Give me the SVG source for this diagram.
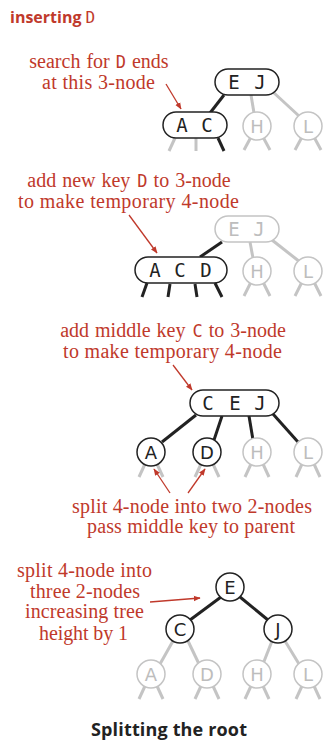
<svg xmlns="http://www.w3.org/2000/svg" width="324" height="742" viewBox="0 0 324 742">
<style>
.bg{fill:#fff}
.lbl{font-family:"Liberation Serif","Times New Roman",serif;font-size:20px;fill:#c0392b;text-anchor:middle}
.mono{font-family:"DejaVu Sans Mono","Liberation Mono",monospace}
.key{font-family:"DejaVu Sans Mono","Liberation Mono",monospace;font-size:19px;text-anchor:middle;fill:#222}
.ckey{font-family:"DejaVu Sans","Open Sans",sans-serif;font-size:18px;text-anchor:middle;fill:#222}
.g .key,.g .ckey{fill:#bdbdbd}
.node{fill:#fff;stroke:#222;stroke-width:1.5}
.g .node{stroke:#c4c4c4}
.eb{stroke:#222;stroke-width:3;fill:none}
.eg{stroke:#c4c4c4;stroke-width:3;fill:none}
.arr{stroke:#c0392b;stroke-width:1.3;fill:none;marker-end:url(#ah)}
.title{font-family:"Open Sans","DejaVu Sans",sans-serif;font-weight:700;font-size:18px;fill:#222;text-anchor:middle}
.head{font-family:"Open Sans","DejaVu Sans",sans-serif;font-weight:700;font-size:16px;fill:#c0392b}
</style>
<defs>
<marker id="ah" viewBox="0 0 10 10" refX="9" refY="5" markerWidth="7" markerHeight="7" markerUnits="userSpaceOnUse" orient="auto">
<path d="M0,1 L10,5 L0,9 z" fill="#c0392b"/>
</marker>
</defs>
<rect class="bg" x="0" y="0" width="324" height="742"/>

<text class="head" x="10" y="23">inserting <tspan class="mono" font-weight="400">D</tspan></text>

<g id="connectors">
<!-- section 1 -->
<line class="eb" x1="224" y1="95" x2="210" y2="113"/>
<line class="eg" x1="251" y1="95" x2="254" y2="113"/>
<line class="eg" x1="273" y1="92" x2="299" y2="116"/>
<line class="eg" x1="175" y1="138" x2="169" y2="151"/>
<line class="eg" x1="196" y1="138" x2="196" y2="151"/>
<line class="eb" x1="218" y1="138" x2="224" y2="151"/>
<line class="eg" x1="251" y1="137" x2="244" y2="150"/>
<line class="eg" x1="263" y1="137" x2="270" y2="150"/>
<line class="eg" x1="302" y1="137" x2="295" y2="150"/>
<line class="eg" x1="314" y1="137" x2="321" y2="150"/>
<!-- section 2 -->
<line class="eb" x1="222" y1="242" x2="200" y2="257"/>
<line class="eg" x1="250" y1="242" x2="253" y2="258"/>
<line class="eg" x1="272" y1="240" x2="300" y2="262"/>
<line class="eb" x1="147" y1="283" x2="142" y2="297"/>
<line class="eb" x1="170" y1="284" x2="168" y2="297"/>
<line class="eb" x1="195" y1="284" x2="197" y2="297"/>
<line class="eb" x1="215" y1="283" x2="222" y2="297"/>
<line class="eg" x1="251" y1="282" x2="244" y2="296"/>
<line class="eg" x1="263" y1="282" x2="270" y2="296"/>
<line class="eg" x1="302" y1="282" x2="295" y2="296"/>
<line class="eg" x1="314" y1="282" x2="321" y2="296"/>
<!-- section 3 -->
<line class="eb" x1="196" y1="415" x2="162" y2="442"/>
<line class="eb" x1="222" y1="416" x2="214" y2="440"/>
<line class="eb" x1="249" y1="416" x2="253" y2="440"/>
<line class="eb" x1="273" y1="414" x2="298" y2="442"/>
<line class="eg" x1="145" y1="464" x2="139" y2="477"/>
<line class="eg" x1="157" y1="464" x2="163" y2="477"/>
<line class="eg" x1="201" y1="464" x2="195" y2="477"/>
<line class="eg" x1="213" y1="464" x2="219" y2="477"/>
<line class="eg" x1="251" y1="464" x2="245" y2="477"/>
<line class="eg" x1="263" y1="464" x2="269" y2="477"/>
<line class="eg" x1="302" y1="464" x2="296" y2="477"/>
<line class="eg" x1="314" y1="464" x2="320" y2="477"/>
<!-- section 5 -->
<line class="eb" x1="221" y1="597" x2="190" y2="620"/>
<line class="eb" x1="240" y1="597" x2="268" y2="620"/>
<line class="eg" x1="173" y1="641" x2="160" y2="664"/>
<line class="eg" x1="188" y1="641" x2="199" y2="664"/>
<line class="eg" x1="272" y1="641" x2="263" y2="664"/>
<line class="eg" x1="285" y1="641" x2="299" y2="664"/>
<line class="eg" x1="145" y1="686" x2="139" y2="699"/>
<line class="eg" x1="157" y1="686" x2="163" y2="699"/>
<line class="eg" x1="201" y1="686" x2="195" y2="699"/>
<line class="eg" x1="213" y1="686" x2="219" y2="699"/>
<line class="eg" x1="251" y1="686" x2="245" y2="699"/>
<line class="eg" x1="263" y1="686" x2="269" y2="699"/>
<line class="eg" x1="302" y1="686" x2="296" y2="699"/>
<line class="eg" x1="314" y1="686" x2="320" y2="699"/>
<!-- annotation arrows -->
<line class="arr" x1="166" y1="84" x2="181" y2="109"/>
<line class="arr" x1="129" y1="215" x2="157" y2="253"/>
<line class="arr" x1="173" y1="365" x2="192" y2="390"/>
<line class="arr" x1="170" y1="493" x2="154" y2="469"/>
<line class="arr" x1="188" y1="493" x2="205" y2="469"/>
<line class="arr" x1="150" y1="602" x2="200" y2="598"/>
</g>

<!-- section 1 nodes -->
<g id="s1-EJ"><rect class="node" x="215" y="69" width="64" height="26" rx="13"/><text class="key" x="234" y="89">E</text><text class="key" x="260" y="89">J</text></g>
<g id="s1-AC"><rect class="node" x="163" y="112" width="64" height="26" rx="13"/><text class="key" x="182" y="132">A</text><text class="key" x="207" y="132">C</text></g>
<g id="s1-H" class="g"><circle class="node" cx="257" cy="126" r="14"/><text class="ckey" x="257" y="132.5">H</text></g>
<g id="s1-L" class="g"><circle class="node" cx="308" cy="126" r="14"/><text class="ckey" x="308" y="132.5">L</text></g>

<!-- section 2 nodes -->
<g id="s2-EJ" class="g"><rect class="node" x="215" y="216" width="64" height="26" rx="13"/><text class="key" x="234" y="236">E</text><text class="key" x="259" y="236">J</text></g>
<g id="s2-ACD"><rect class="node" x="135" y="257" width="92" height="26" rx="13"/><text class="key" x="155" y="277">A</text><text class="key" x="180" y="277">C</text><text class="key" x="206" y="277">D</text></g>
<g id="s2-H" class="g"><circle class="node" cx="257" cy="271" r="14"/><text class="ckey" x="257" y="277.5">H</text></g>
<g id="s2-L" class="g"><circle class="node" cx="308" cy="271" r="14"/><text class="ckey" x="308" y="277.5">L</text></g>

<!-- section 3 nodes -->
<g id="s3-CEJ"><rect class="node" x="190" y="390" width="89" height="26" rx="13"/><text class="key" x="208" y="410">C</text><text class="key" x="235" y="410">E</text><text class="key" x="260" y="410">J</text></g>
<g id="s3-A"><circle class="node" cx="151" cy="452" r="14"/><text class="ckey" x="151" y="458.5">A</text></g>
<g id="s3-D"><circle class="node" cx="207" cy="452" r="14"/><text class="ckey" x="207" y="458.5">D</text></g>
<g id="s3-H" class="g"><circle class="node" cx="257" cy="452" r="14"/><text class="ckey" x="257" y="458.5">H</text></g>
<g id="s3-L" class="g"><circle class="node" cx="308" cy="452" r="14"/><text class="ckey" x="308" y="458.5">L</text></g>

<!-- section 5 nodes -->
<g id="s5-E"><circle class="node" cx="230" cy="587" r="14"/><text class="ckey" x="230" y="593.5">E</text></g>
<g id="s5-C"><circle class="node" cx="180" cy="629" r="14"/><text class="ckey" x="180" y="635.5">C</text></g>
<g id="s5-J"><circle class="node" cx="278" cy="629" r="14"/><text class="ckey" x="278" y="635.5">J</text></g>
<g id="s5-A" class="g"><circle class="node" cx="151" cy="674" r="14"/><text class="ckey" x="151" y="680.5">A</text></g>
<g id="s5-D" class="g"><circle class="node" cx="207" cy="674" r="14"/><text class="ckey" x="207" y="680.5">D</text></g>
<g id="s5-H" class="g"><circle class="node" cx="257" cy="674" r="14"/><text class="ckey" x="257" y="680.5">H</text></g>
<g id="s5-L" class="g"><circle class="node" cx="308" cy="674" r="14"/><text class="ckey" x="308" y="680.5">L</text></g>

<!-- labels -->
<g id="labels">
<text class="lbl" x="99" y="68" word-spacing="1">search for <tspan class="mono" font-size="17">D</tspan> ends</text>
<text class="lbl" x="98.5" y="89" textLength="113">at this 3-node</text>
<text class="lbl" x="129" y="186.5" word-spacing="1">add new key <tspan class="mono" font-size="17" dx="1">D</tspan> to 3-node</text>
<text class="lbl" x="128.5" y="207.5" textLength="221">to make temporary 4-node</text>
<text class="lbl" x="173" y="336.5" word-spacing="1">add middle key <tspan class="mono" font-size="17" dx="1">C</tspan> to 3-node</text>
<text class="lbl" x="172.5" y="357.5" textLength="219">to make temporary 4-node</text>
<text class="lbl" x="192" y="513" textLength="240">split 4-node into two 2-nodes</text>
<text class="lbl" x="191" y="533" textLength="208">pass middle key to parent</text>
<text class="lbl" x="84.5" y="577" textLength="135">split 4-node into</text>
<text class="lbl" x="85" y="598" textLength="110">three 2-nodes</text>
<text class="lbl" x="84.5" y="618" textLength="119">increasing tree</text>
<text class="lbl" x="83.5" y="640" textLength="89">height by 1</text>
</g>

<text class="title" x="169" y="736" textLength="156">Splitting the root</text>
</svg>
